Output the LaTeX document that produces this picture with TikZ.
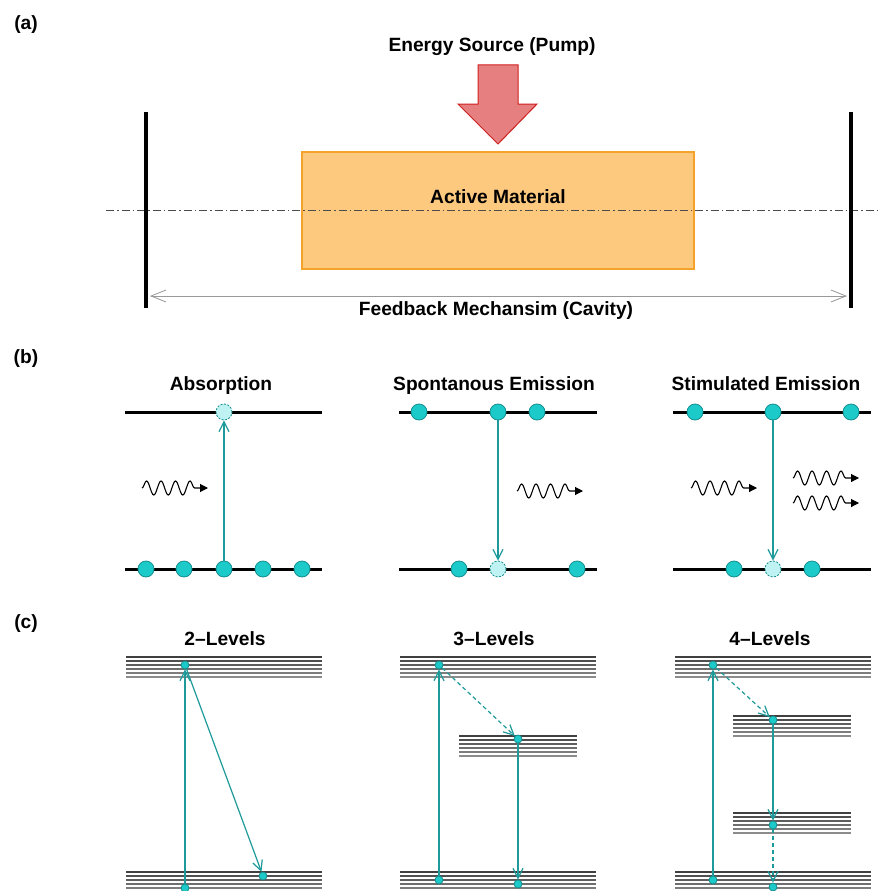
\documentclass[tikz,border=0pt]{standalone}
\usepackage{fontspec}
\setmainfont{Liberation Sans}
\usetikzlibrary{arrows.meta,decorations.pathmorphing}
\definecolor{teal1}{HTML}{1E9A9A}
\definecolor{atomfill}{HTML}{1CCACA}
\definecolor{atomdraw}{HTML}{178F8F}
\definecolor{ghostfill}{HTML}{BFF2F2}
\definecolor{pumpfill}{HTML}{E67F7F}
\definecolor{pumpdraw}{HTML}{D02020}
\definecolor{matfill}{HTML}{FDC97F}
\definecolor{matdraw}{HTML}{F5A22A}
\newcommand\levelband[3]{%
  \foreach \i in {0,...,5}{%
    \pgfmathsetmacro\shd{75-6*\i}%
    \draw[line width=1.1pt, black!\shd] ({#1},{#3+4*\i}) -- ({#2},{#3+4*\i});}}
\begin{document}
\begin{tikzpicture}[x=1pt,y=-1pt,
  lbl/.style={font=\fontsize{19.2}{21}\selectfont\bfseries, inner sep=0pt, anchor=base},
  atom/.style={circle, fill=atomfill, draw=atomdraw, line width=0.8pt, minimum size=16pt, inner sep=0pt},
  ghost/.style={atom, fill=ghostfill, dash pattern=on 2pt off 1.5pt},
  satom/.style={atom, minimum size=8pt},
  level/.style={line width=3pt, black},
  trans/.style={teal1, line width=1.2pt, -{Straight Barb[length=10pt,width=10pt]}},
  relax/.style={trans, dash pattern=on 4pt off 3pt},
  photon/.style={line width=1.1pt, decorate, decoration={snake, amplitude=7pt, segment length=14.5pt, post length=8pt}, -{Triangle[length=8pt,width=8pt]}},
  mirror/.style={line width=3.5pt, black},
  fb/.style={black!40, line width=0.8pt, {Straight Barb[length=15pt,width=12pt]}-{Straight Barb[length=15pt,width=12pt]}},
]
\useasboundingbox[fill=white] (0,0) rectangle (879,891);

% ---------- (a) ----------
\node[lbl] (la) at (26,30) {(a)};
\node[lbl] (pumpt) at (492,52) {Energy Source (Pump)};
\draw[pumpdraw, fill=pumpfill, line width=1pt] (478,65) -- (518,65) -- (518,104) -- (537,104) -- (498,144) -- (458,104) -- (478,104) -- cycle;
\node[draw=matdraw, fill=matfill, line width=1.2pt, minimum width=392pt, minimum height=117pt, inner sep=0pt] (mat) at (498,210.5) {};
\node[lbl] (matt) at (498,203) {Active Material};
\draw[black!70, line width=0.8pt, dash pattern=on 8pt off 3pt on 1.5pt off 3pt] (106,210) -- (879,210);
\coordinate (mLt) at (146,112); \coordinate (mLb) at (146,308);
\coordinate (mRt) at (851,112); \coordinate (mRb) at (851,308);
\draw[mirror] (mLt) -- (mLb);
\draw[mirror] (mRt) -- (mRb);
\coordinate (fbL) at (150,296); \coordinate (fbR) at (847,296);
\draw[fb] (fbL) -- (fbR);
\node[lbl] (fbt) at (496,315) {Feedback Mechansim (Cavity)};

% ---------- (b) ----------
\node[lbl] (lb) at (26,363) {(b)};
\node[lbl] (t1) at (221,390) {Absorption};
\node[lbl] (t2) at (494,390) {Spontanous Emission};
\node[lbl] (t3) at (766,390) {Stimulated Emission};
\draw[level] (125,412) -- (322,412);
\draw[level] (125,569) -- (322,569);
\draw[level] (399,412) -- (597,412);
\draw[level] (399,569) -- (597,569);
\draw[level] (673,412) -- (871,412);
\draw[level] (673,569) -- (871,569);
% absorption
\foreach \x [count=\k] in {146,184,224,263,302} \node[atom] (a\k) at (\x,569) {};
\node[ghost] (au) at (224,412) {};
\draw[trans] (a3) -- (au);
% spontaneous
\node[atom] (s1) at (419,412) {};
\node[atom] (s2) at (498,412) {};
\node[atom] (s3) at (537,412) {};
\node[atom] (s4) at (459,569) {};
\node[ghost] (sg) at (498,569) {};
\node[atom] (s5) at (577,569) {};
\draw[trans] (s2) -- (sg);
% stimulated
\node[atom] (e1) at (695,412) {};
\node[atom] (e2) at (773,412) {};
\node[atom] (e3) at (851,412) {};
\node[atom] (e4) at (734,569) {};
\node[ghost] (eg) at (773,569) {};
\node[atom] (e5) at (812,569) {};
\draw[trans] (e2) -- (eg);
% photons
\coordinate (p1a) at (142,488); \coordinate (p1b) at (208,488);
\coordinate (p2a) at (517,491); \coordinate (p2b) at (583,491);
\coordinate (p3a) at (691,488); \coordinate (p3b) at (757,488);
\coordinate (p4a) at (793,478); \coordinate (p4b) at (859,478);
\coordinate (p5a) at (793,503); \coordinate (p5b) at (859,503);
\draw[photon] (p1a) -- (p1b);
\draw[photon] (p2a) -- (p2b);
\draw[photon] (p3a) -- (p3b);
\draw[photon] (p4a) -- (p4b);
\draw[photon] (p5a) -- (p5b);

% ---------- (c) ----------
\node[lbl] (lc) at (26,628) {(c)};
\node[lbl] (c1) at (225,645) {2–Levels};
\node[lbl] (c2) at (494,645) {3–Levels};
\node[lbl] (c3) at (770,645) {4–Levels};
\levelband{126}{322}{657}
\levelband{126}{322}{872}
\levelband{400}{596}{657}
\levelband{459}{577}{736}
\levelband{400}{596}{872}
\levelband{675}{871}{657}
\levelband{733}{851}{716}
\levelband{733}{851}{813}
\levelband{675}{871}{872}
% 2 levels
\node[satom] (l2a) at (185,888) {};
\node[satom] (l2b) at (185,665) {};
\node[satom] (l2c) at (263,876) {};
\draw[trans] (l2a) -- (l2b);
\draw[trans] (l2b) -- (l2c);
% 3 levels
\node[satom] (l3a) at (439,880) {};
\node[satom] (l3b) at (439,665) {};
\node[satom] (l3c) at (518,739) {};
\node[satom] (l3d) at (518,884) {};
\draw[trans] (l3a) -- (l3b);
\draw[relax] (l3b) -- (l3c);
\draw[trans] (l3c) -- (l3d);
% 4 levels
\node[satom] (l4a) at (713,880) {};
\node[satom] (l4b) at (713,665) {};
\node[satom] (l4c) at (773,720) {};
\node[satom] (l4d) at (773,825) {};
\node[satom] (l4e) at (773,887) {};
\draw[trans] (l4a) -- (l4b);
\draw[relax] (l4b) -- (l4c);
\draw[trans] (l4c) -- (l4d);
\draw[relax] (l4d) -- (l4e);
\end{tikzpicture}
\end{document}
